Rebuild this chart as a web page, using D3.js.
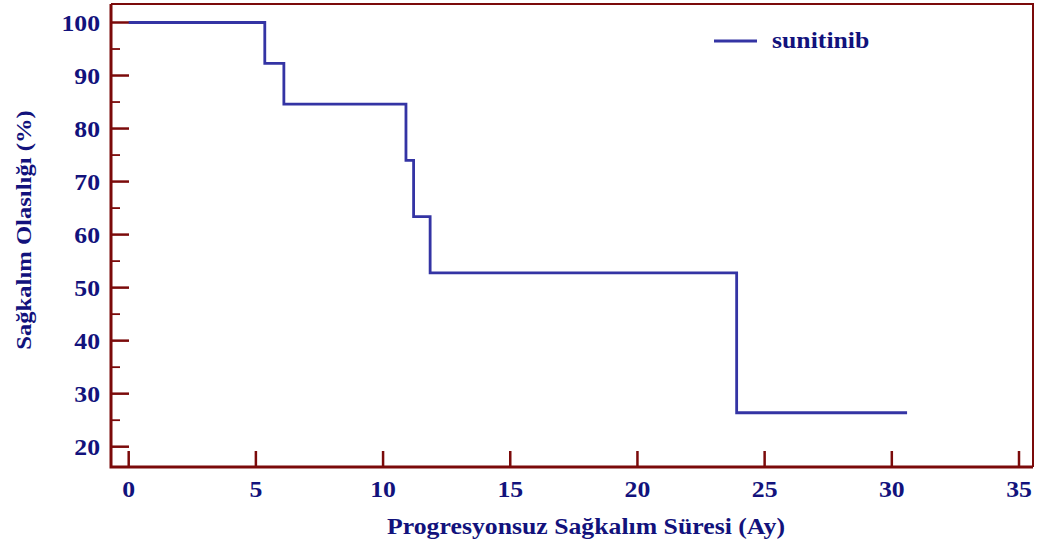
<!DOCTYPE html>
<html>
<head>
<meta charset="utf-8">
<script src="https://cdn.jsdelivr.net/npm/d3@7"></script>
<style>
  html, body { margin: 0; padding: 0; background: #fff; }
  svg { display: block; }
  text { font-family: "Liberation Serif", "Times New Roman", serif; font-weight: bold; fill: #12127c; }
</style>
</head>
<body>
<svg id="chart" width="1037" height="547"></svg>
<script>
// Kaplan–Meier progression-free survival, sunitinib arm
const stepTimes = [0, 5.35, 6.1, 10.9, 11.2, 11.85, 23.9];
const survival  = [100, 92.3, 84.6, 74.0, 63.4, 52.8, 26.4];
const lastFollowUp = 30.6;

const xTicks = [0, 5, 10, 15, 20, 25, 30, 35];
const yTicks = [20, 30, 40, 50, 60, 70, 80, 90, 100];
const yMinorTicks = [25, 35, 45, 55, 65, 75, 85, 95];

const seriesName = "sunitinib";
const xTitle = "Progresyonsuz Sağkalım Süresi (Ay)";
const yTitle = "Sağkalım Olasılığı (%)";

const svg = d3.select("#chart");
const frame = { left: 111, right: 1033, top: 4, bottom: 467 };
const axisColor = "#7b0a0a";
const lineColor = "#3434a4";
const stretch = 1.12; // slightly wide lettering

const x = d3.scaleLinear().domain([0, 35]).range([128.7, 1019]);
const y = d3.scaleLinear().domain([20, 100]).range([446.7, 22.5]);

// places a horizontally stretched label anchored at (px, py)
function label(parent, px, py, rot) {
  return parent.append("text")
    .attr("transform", `translate(${px},${py})${rot ? ` rotate(${rot})` : ""} scale(${stretch},1)`);
}

// top and right frame
svg.append("path")
  .attr("d", `M${frame.left},${frame.top}H${frame.right}V${frame.bottom}`)
  .attr("fill", "none").attr("stroke", axisColor).attr("stroke-width", 2);

// y axis with inward ticks
const yAxis = svg.append("g").attr("transform", `translate(${frame.left},0)`);
yAxis.selectAll("line.major").data(yTicks).join("line")
  .attr("class", "major")
  .attr("x1", 0).attr("x2", 18)
  .attr("y1", d => y(d)).attr("y2", d => y(d))
  .attr("stroke", axisColor).attr("stroke-width", 2.5);
yAxis.selectAll("line.minor").data(yMinorTicks).join("line")
  .attr("class", "minor")
  .attr("x1", 0).attr("x2", 9)
  .attr("y1", d => y(d)).attr("y2", d => y(d))
  .attr("stroke", axisColor).attr("stroke-width", 1.8);
yTicks.forEach(d => {
  label(yAxis, -11, y(d)).attr("dy", "0.35em")
    .attr("text-anchor", "end").attr("font-size", 23).text(d);
});

// x axis with inward ticks
const xAxis = svg.append("g").attr("transform", `translate(0,${frame.bottom})`);
xAxis.selectAll("line").data(xTicks).join("line")
  .attr("x1", d => x(d)).attr("x2", d => x(d))
  .attr("y1", 0).attr("y2", -16)
  .attr("stroke", axisColor).attr("stroke-width", 2.5);
xTicks.forEach(d => {
  label(xAxis, x(d), 30).attr("text-anchor", "middle").attr("font-size", 23).text(d);
});

// axis lines
svg.append("path")
  .attr("d", `M${frame.left},${frame.top}V${frame.bottom}H${frame.right}`)
  .attr("fill", "none").attr("stroke", axisColor).attr("stroke-width", 3);

// survival step curve
const pts = stepTimes.map((t, i) => [t, survival[i]]);
pts.push([lastFollowUp, survival[survival.length - 1]]);
const line = d3.line().x(d => x(d[0])).y(d => y(d[1])).curve(d3.curveStepAfter);
svg.append("path")
  .datum(pts)
  .attr("d", line)
  .attr("fill", "none").attr("stroke", lineColor).attr("stroke-width", 2.8);

// legend
svg.append("line")
  .attr("x1", 714).attr("x2", 757).attr("y1", 41).attr("y2", 41)
  .attr("stroke", lineColor).attr("stroke-width", 2.8);
label(svg, 772, 48).attr("font-size", 23).text(seriesName);

// axis titles
label(svg, 586, 534).attr("text-anchor", "middle").attr("font-size", 23).text(xTitle);
label(svg, 31, 230, -90).attr("text-anchor", "middle").attr("font-size", 22).text(yTitle);
</script>
</body>
</html>
